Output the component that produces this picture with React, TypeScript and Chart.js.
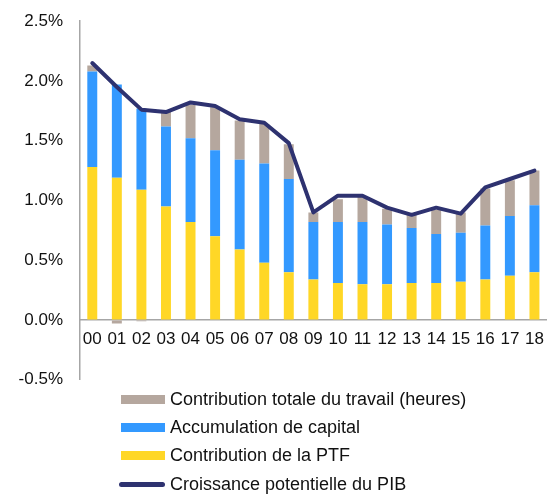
import React, { useEffect, useRef } from "react";
import { Chart, registerables } from "chart.js";

Chart.register(...registerables);

const years = ["00", "01", "02", "03", "04", "05", "06", "07", "08", "09", "10", "11", "12", "13", "14", "15", "16", "17", "18"];
const ptf = [1.28, 1.19, 1.09, 0.95, 0.82, 0.70, 0.59, 0.48, 0.40, 0.34, 0.31, 0.30, 0.30, 0.31, 0.31, 0.32, 0.34, 0.37, 0.40];
const capital = [0.80, 0.78, 0.68, 0.67, 0.70, 0.72, 0.75, 0.83, 0.78, 0.48, 0.51, 0.52, 0.50, 0.46, 0.41, 0.41, 0.45, 0.50, 0.56];
const travail = [0.05, -0.03, -0.01, 0.12, 0.28, 0.36, 0.33, 0.33, 0.29, 0.08, 0.19, 0.21, 0.13, 0.11, 0.20, 0.17, 0.31, 0.30, 0.29];
const pib = [2.15, 1.95, 1.76, 1.74, 1.82, 1.79, 1.68, 1.65, 1.48, 0.90, 1.04, 1.04, 0.94, 0.88, 0.94, 0.89, 1.11, 1.18, 1.25];

const COLORS = {
  travail: "#B5A79E",
  capital: "#3399FF",
  ptf: "#FFD726",
  pib: "#2E3270",
};

const legendItems = [
  { label: "Contribution totale du travail (heures)", color: COLORS.travail, line: false },
  { label: "Accumulation de capital", color: COLORS.capital, line: false },
  { label: "Contribution de la PTF", color: COLORS.ptf, line: false },
  { label: "Croissance potentielle du PIB", color: COLORS.pib, line: true },
];

const FONT = "'Liberation Sans', Arial, sans-serif";

export default function App() {
  const ref = useRef<HTMLCanvasElement | null>(null);

  useEffect(() => {
    if (!ref.current) return;
    const chart = new Chart(ref.current, {
      type: "bar",
      data: {
        labels: years,
        datasets: [
          {
            type: "line",
            label: "Croissance potentielle du PIB",
            data: pib,
            borderColor: COLORS.pib,
            backgroundColor: COLORS.pib,
            borderWidth: 4,
            pointRadius: 0,
            tension: 0,
            borderJoinStyle: "round",
            borderCapStyle: "round",
            order: 0,
          } as any,
          {
            label: "Contribution de la PTF",
            data: ptf,
            backgroundColor: COLORS.ptf,
            stack: "s",
            order: 1,
          },
          {
            label: "Accumulation de capital",
            data: capital,
            backgroundColor: COLORS.capital,
            stack: "s",
            order: 1,
          },
          {
            label: "Contribution totale du travail (heures)",
            data: travail,
            backgroundColor: COLORS.travail,
            stack: "s",
            order: 1,
          },
        ],
      },
      options: {
        animation: false,
        responsive: false,
        maintainAspectRatio: false,
        layout: { padding: { top: 14, bottom: 12, left: 0, right: 4 } },
        datasets: { bar: { barPercentage: 0.405, categoryPercentage: 1 } },
        plugins: {
          legend: { display: false },
          tooltip: { enabled: false },
        },
        scales: {
          x: {
            stacked: true,
            position: { y: 0 } as any,
            grid: { display: true, drawOnChartArea: false, drawTicks: false },
            border: { display: true, color: "#A6A6A6", width: 1.5 },
            ticks: {
              color: "#111",
              font: { family: FONT, size: 17 },
              padding: 9,
              maxRotation: 0,
              autoSkip: false,
            },
          },
          y: {
            stacked: true,
            min: -0.5,
            max: 2.5,
            afterFit: (s: any) => {
              s.width = 80;
            },
            grid: { display: true, drawOnChartArea: false, drawTicks: false },
            border: { display: true, color: "#A6A6A6", width: 1.5 },
            ticks: {
              stepSize: 0.5,
              color: "#111",
              font: { family: FONT, size: 17 },
              padding: 17,
              callback: (v: any) => Number(v).toFixed(1) + "%",
            },
          },
        },
      },
    });
    return () => chart.destroy();
  }, []);

  return (
    <div style={{ position: "absolute", left: 0, top: 0, width: 553, height: 495, background: "#fff", overflow: "hidden" }}>
      <canvas ref={ref} width={553} height={413} style={{ position: "absolute", left: 0, top: -6, width: 553, height: 413 }} />
      {legendItems.map((it, i) => (
        <div
          key={it.label}
          style={{
            position: "absolute",
            left: 119,
            top: 399 + i * 28.4 - 12,
            height: 24,
            display: "flex",
            alignItems: "center",
            fontFamily: FONT,
            fontSize: 18,
            color: "#111",
            whiteSpace: "nowrap",
          }}
        >
          <span
            style={{
              display: "inline-block",
              width: it.line ? 46 : 44,
              height: it.line ? 5 : 9,
              background: it.color,
              borderRadius: it.line ? 3 : 0,
              marginLeft: it.line ? 0 : 2,
              marginRight: 5,
            }}
          />
          <span>{it.label}</span>
        </div>
      ))}
    </div>
  );
}
